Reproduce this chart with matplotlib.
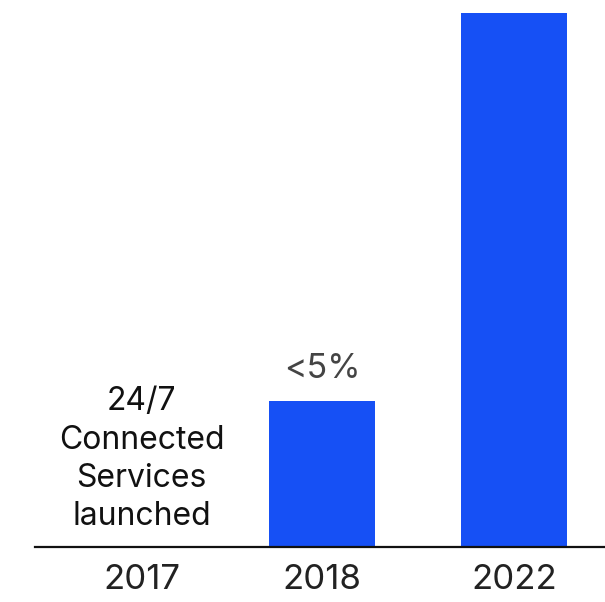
import matplotlib.pyplot as plt

plt.rcParams['font.family'] = ['Inter', 'DejaVu Sans']

years = ['2017', '2018', '2022']
values = [0, 5, 18.3]
bar_label = ['', '<5%', '']
note_2017 = '24/7\nConnected\nServices\nlaunched'

# layout
pos = [-0.94, 0, 1]
px = 547 / 18.73  # pixels per unit on y

fig = plt.figure(figsize=(6.05, 6.02), dpi=100)
ax = fig.add_axes([0, 1 - 547 / 602, 1, 547 / 602])

ax.bar(pos[1:], values[1:], width=0.55, color='#1650F5')
ax.set_xlim((0 - 322) / 192, (605 - 322) / 192)
ax.set_ylim(0, 18.73)

for s in ['top', 'right', 'left']:
    ax.spines[s].set_visible(False)
ax.spines['bottom'].set_bounds((35 - 322) / 192, (605 - 322) / 192)
ax.spines['bottom'].set_linewidth(1.6)
ax.spines['bottom'].set_color('#111111')

ax.set_yticks([])
ax.set_xticks(pos)
ax.set_xticklabels(years, fontsize=25, color='#222222')
ax.tick_params(axis='x', length=0, pad=12)

for p, v, t in zip(pos, values, bar_label):
    if t:
        ax.text(p, v + 23 / px, t, ha='center', va='baseline', fontsize=24.5, color='#444444')

ax.text(pos[0], 22 / px, note_2017, ha='center', va='baseline', fontsize=23,
        color='#111111', linespacing=1.3)

fig.savefig('out.png', dpi=100)
